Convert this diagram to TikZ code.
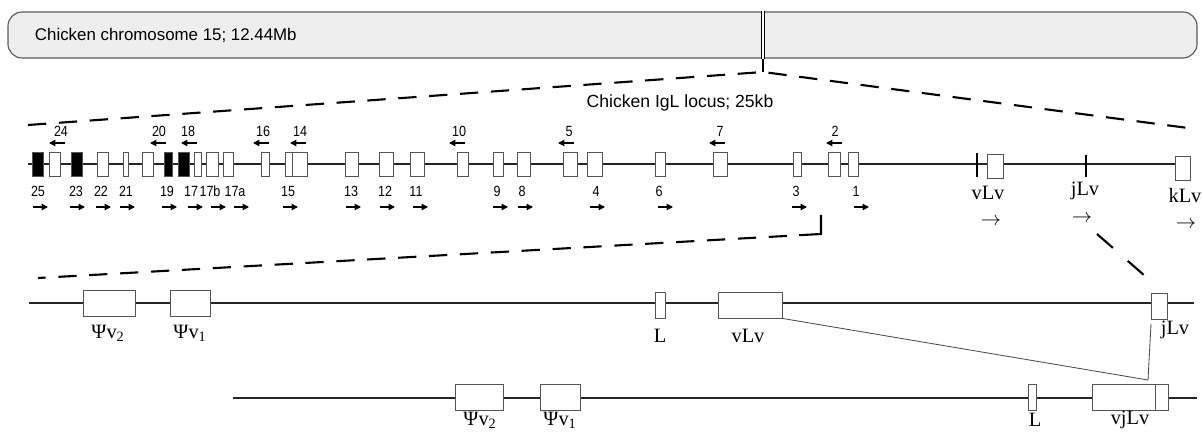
\documentclass[tikz,border=0pt]{standalone}
\usepackage{fontspec}
\setmainfont{Liberation Serif}
\newfontfamily\labelsans{Liberation Sans}
\newfontfamily\numsans[FakeStretch=0.85]{Liberation Sans}
\usetikzlibrary{arrows.meta}

\begin{document}
\begin{tikzpicture}[x=0.025cm, y=-0.025cm,
    exon/.style={draw=gray!65!black, line width=0.6pt, fill=white, inner sep=0pt, minimum height=24*0.025cm},
    bigexon/.style={exon, minimum height=26*0.025cm},
    gene/.style={line width=1.6pt, black!85},
    zoomline/.style={line width=1.5pt, dash pattern=on 13pt off 9pt},
    smallarrow/.style={line width=0.9pt, -{Triangle[length=4.5pt, width=4.5pt]}},
    num/.style={font=\numsans\fontsize{10.5}{11}\selectfont, inner sep=0pt},
    serifname/.style={font=\fontsize{14.5}{16}\selectfont, inner sep=0pt},
    dirmark/.style={font=\fontsize{15}{17}\selectfont, inner sep=0pt}]
    \useasboundingbox (0,0) rectangle (1203,432);

    % Chromosome bar
    \node[draw=gray!70!black, fill=gray!13, line width=0.8pt, rounded corners=10pt,
          minimum width=1189*0.025cm, minimum height=46*0.025cm] (chr) at (602.5,35) {};
    \node[anchor=west, font=\labelsans\fontsize{12}{14}\selectfont] (chrname) at (30,35) {Chicken chromosome 15; 12.44Mb};

    % Locus position and zoom lines
    \coordinate (apex) at (763,72);
    \draw[double, double distance=1pt, line width=0.7pt] (chr.north -| apex) -- (chr.south -| apex);
    \draw[line width=1.6pt] (chr.south -| apex) -- (apex);
    \draw[zoomline] (28,125) -- (apex) -- (1188,128);
    \node[font=\labelsans\fontsize{12.5}{14}\selectfont] (locus) at (680,103) {Chicken IgL locus; 25kb};

    % IgL locus: backbone, exons and markers
    \draw[gene] (28,164) -- (1190,164);
    \foreach \a/\b/\c/\n in {32/43/black/25, 49/60/white/24, 71/82/black/23, 97/108/white/22,
        123/128/white/21, 142/153/white/20, 164/172/black/19, 178/189/black/18,
        194/201/white/17, 206/218/white/17b, 223/233/white/17a, 261/269/white/16,
        285/292/white/15, 292/307/white/14, 345/358/white/13, 379/393/white/12,
        410/424/white/11, 457/468/white/10, 493/503/white/9, 517/530/white/8,
        563/577/white/5, 587/602/white/4, 655/665/white/6, 713/727/white/7,
        793/801/white/3, 828/840/white/2, 848/858/white/1}
      \node[exon, fill=\c, minimum width={(\b-\a)*0.025cm}] (e\n) at ({(\a+\b)/2},164) {};

    % numbers below, forward orientation
    \foreach \n/\x/\ax in {25/38/33, 23/76/70, 22/101/96, 21/126/120, 19/167/162,
        17/191/188, 17b/210/211, 17a/235/234, 15/288/283, 13/351/346, 12/385/380,
        11/416/413, 9/497/493, 8/522/518, 4/596/590, 6/659/658, 3/796/792, 1/856/854}{
      \node[num] (n\n) at (\x,191) {\n};
      \draw[smallarrow] (\ax,207) -- ++(15,0);
    }

    % numbers above, reverse orientation
    \foreach \n/\x/\ax in {24/61/49, 20/159/150, 18/188/181, 16/263/253, 14/300/290,
        10/459/449, 5/569/558, 7/720/709, 2/835/826}{
      \node[num] (t\n) at (\x,131) {\n};
      \draw[smallarrow] (\ax+16,143) -- ++(-16,0);
    }

    % lambda gene segments
    \draw[line width=0.8pt] (977,153) -- (977,177);
    \draw[line width=0.8pt] (1086,155) -- (1086,177);
    \node[exon, minimum width=16*0.025cm] (vlv) at (995,166) {};
    \node[exon, minimum width=15*0.025cm] (klv) at (1182.5,168) {};
    \node[serifname] (vlvname) at (988,193) {vLv};
    \node[serifname] (jlvname) at (1085,191) {jLv};
    \node[serifname] (klvname) at (1185,196) {kLv};
    \node[dirmark] (vlvdir) at (991,222) {$\rightarrow$};
    \node[dirmark] (jlvdir) at (1082,219) {$\rightarrow$};
    \node[dirmark] (klvdir) at (1186,225) {$\rightarrow$};

    % zoom into germline region
    \draw[line width=1.5pt] (821,215) -- (821,234) -- (799,235.2);
    \draw[zoomline] (787,235.9) -- (38,278);
    \draw[line width=1.5pt, dash pattern=on 15pt off 14pt] (1097,234) -- (1153,283);

    % Germline configuration
    \draw[gene] (29,303) -- (1194,303);
    \node[bigexon, minimum width=52*0.025cm] (psi2) at (109,303) {};
    \node[bigexon, minimum width=40*0.025cm] (psi1) at (190,303) {};
    \node[bigexon, minimum width=10*0.025cm] (lead) at (660,305) {};
    \node[bigexon, minimum width=64*0.025cm] (vlvg) at (750,305) {};
    \node[bigexon, minimum width=16*0.025cm] (jlvg) at (1159,306) {};
    \node[serifname] (psi2name) at (108,333) {Ψv\textsubscript{2}};
    \node[serifname] (psi1name) at (190,333) {Ψv\textsubscript{1}};
    \node[serifname] (leadname) at (660,336) {L};
    \node[serifname] (vlvgname) at (748,336) {vLv};
    \node[serifname] (jlvgname) at (1175,330) {jLv};

    % Rearranged configuration
    \draw[gene] (233,398) -- (1197,398);
    \node[bigexon, minimum width=48*0.025cm] (rpsi2) at (479,397) {};
    \node[bigexon, minimum width=40*0.025cm] (rpsi1) at (560,397) {};
    \node[bigexon, minimum width=8*0.025cm] (rlead) at (1032,397) {};
    \node[bigexon, minimum width=76*0.025cm] (rvj) at (1130,397) {};
    \draw[gray!65!black, line width=0.6pt] (rvj.north -| 1155,0) -- (rvj.south -| 1155,0);
    \node[serifname] (rpsi2name) at (480,420) {Ψv\textsubscript{2}};
    \node[serifname] (rpsi1name) at (560,420) {Ψv\textsubscript{1}};
    \node[serifname] (rleadname) at (1035,420) {L};
    \node[serifname] (rvjname) at (1130,420) {vjLv};

    % joining of v and j
    \coordinate (kink) at (1148,380);
    \coordinate (jfoot) at (1151,324);
    \draw[gray!60!black, line width=0.6pt] (vlvg.south east) -- (kink) -- (jfoot);
\end{tikzpicture}
\end{document}
